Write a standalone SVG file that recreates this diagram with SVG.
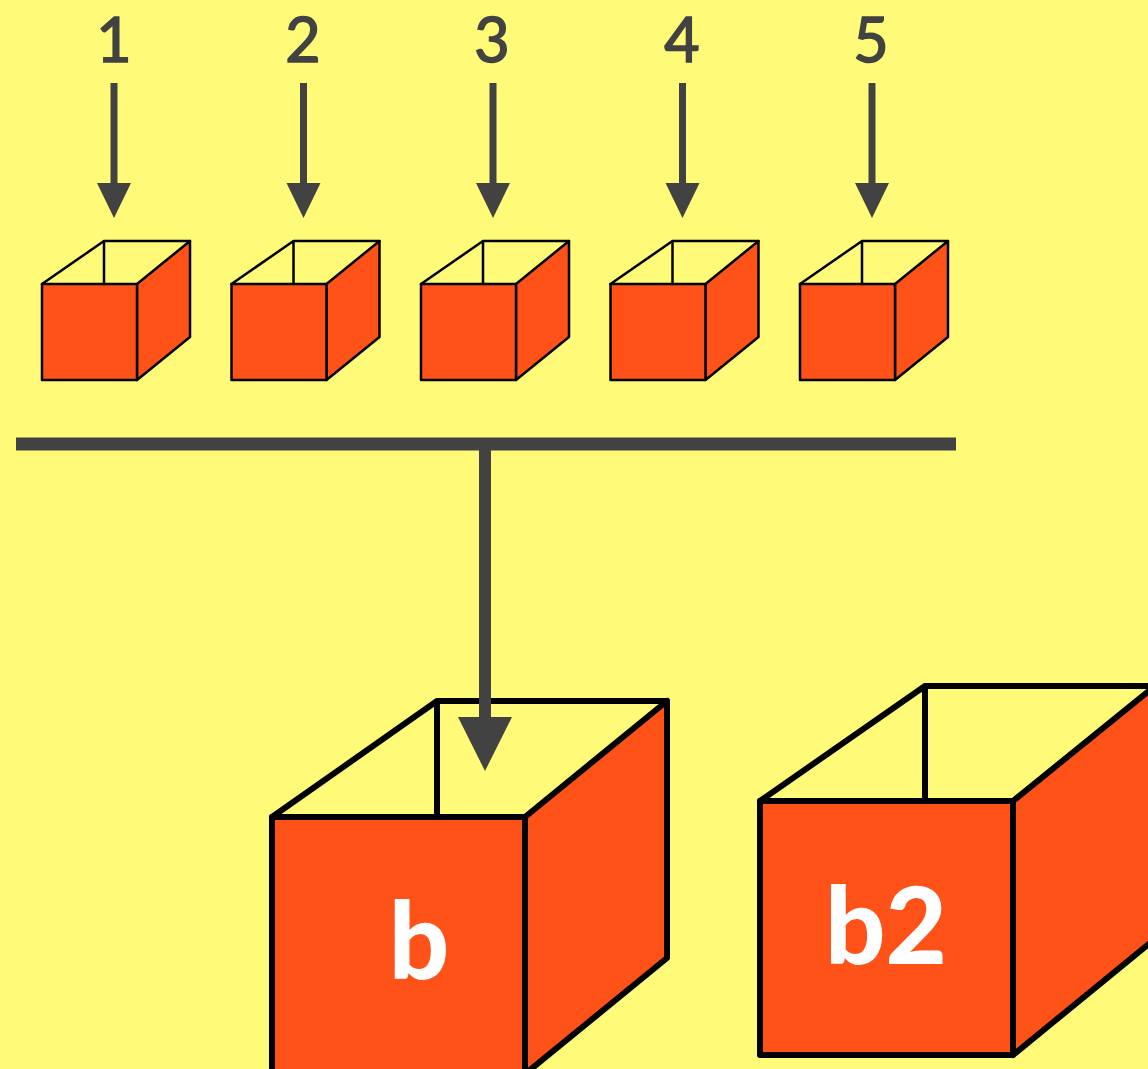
<svg xmlns="http://www.w3.org/2000/svg" width="1148" height="1069" viewBox="0 0 1148 1069">
  <defs>
    <style>
      .num { font-family: Lato, "Liberation Sans", sans-serif; font-weight: 400; font-size: 61px; fill: #424242; stroke: #424242; stroke-width: 1.6px; text-anchor: middle; }
      .big { font-family: Lato, "Liberation Sans", sans-serif; font-weight: 900; font-size: 106px; fill: #ffffff; text-anchor: middle; }
      .face { fill: #ff5218; stroke: #000; stroke-linejoin: round; }
      .open { fill: none; stroke: #000; stroke-linejoin: round; stroke-linecap: round; }
      .shaft { stroke: #424242; fill: none; }
      .head { fill: #424242; }
    </style>
    <!-- small open box: front square, right side, open top -->
    <g id="smallBox">
      <path class="face" stroke-width="2.5" d="M137 284 L190 241 L190 337 L137 380 Z"/>
      <rect class="face" stroke-width="2.5" x="42" y="284" width="95" height="96"/>
      <path class="open" stroke-width="2.5" d="M42 284 L104 241 L190 241 M104 241 L104 284"/>
    </g>
    <!-- short input arrow -->
    <g id="inArrow">
      <line class="shaft" stroke-width="7" x1="114" y1="83" x2="114" y2="186"/>
      <path class="head" d="M97 183 L131 183 L114 218 Z"/>
    </g>
  </defs>

  <rect width="1148" height="1069" fill="#fffb78"/>

  <!-- numbered inputs -->
  <g id="node-1">
    <text class="num" x="114" y="62">1</text>
    <use href="#smallBox"/>
  </g>
  <g id="node-2">
    <text class="num" x="303" y="62">2</text>
    <use href="#smallBox" x="189.5"/>
  </g>
  <g id="node-3">
    <text class="num" x="492" y="62">3</text>
    <use href="#smallBox" x="379"/>
  </g>
  <g id="node-4">
    <text class="num" x="682" y="62">4</text>
    <use href="#smallBox" x="568.5"/>
  </g>
  <g id="node-5">
    <text class="num" x="871" y="62">5</text>
    <use href="#smallBox" x="758"/>
  </g>

  <!-- target box b -->
  <g id="node-b">
    <path class="face" stroke-width="6" d="M525 817 L667 701 L667 958 L525 1074 Z"/>
    <rect class="face" stroke-width="6" x="272" y="817" width="253" height="257"/>
    <path class="open" stroke-width="6" d="M272 817 L437 701 L667 701 M437 701 L437 817"/>
    <text class="big" x="419" y="979">b</text>
  </g>

  <!-- second box b2 -->
  <g id="node-b2">
    <path class="face" stroke-width="6" d="M1013 801 L1155 686 L1155 939 L1013 1055 Z"/>
    <rect class="face" stroke-width="6" x="760" y="801" width="253" height="254"/>
    <path class="open" stroke-width="6" d="M760 801 L925 686 L1155 686 M925 686 L925 801"/>
    <text class="big" x="886" y="964">b2</text>
  </g>

  <!-- connectors -->
  <g id="connectors">
    <use href="#inArrow"/>
    <use href="#inArrow" x="189.5"/>
    <use href="#inArrow" x="379"/>
    <use href="#inArrow" x="568.5"/>
    <use href="#inArrow" x="758"/>
    <line class="shaft" stroke-width="13" x1="16" y1="444" x2="956" y2="444"/>
    <line class="shaft" stroke-width="12" x1="485" y1="444" x2="485" y2="720"/>
    <path class="head" d="M458 717 L512 717 L485 771 Z"/>
  </g>
</svg>
